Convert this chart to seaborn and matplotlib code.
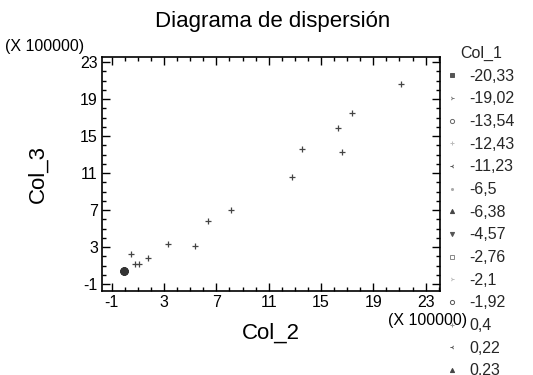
import matplotlib
matplotlib.use("Agg")
import matplotlib.pyplot as plt
from matplotlib.lines import Line2D
from matplotlib.ticker import MultipleLocator, FixedLocator
import seaborn as sns
import pandas as pd
import numpy as np

# ---- data (values in units of 100000) ----
col2 = [21.15, 17.38, 16.31, 16.62, 13.54, 12.77, 8.08, 6.38, 5.38, 3.31, 1.77, 1.08, 0.77, 0.46]
col3 = [20.62, 17.49, 15.86, 13.27, 13.59, 10.57, 7.00, 5.81, 3.11, 3.32, 1.81, 1.16, 1.16, 2.24]
cluster_x = [-0.08, -0.05, -0.10, -0.07]
cluster_y = [0.41, 0.45, 0.38, 0.43]
legend_labels = ["-20,33", "-19,02", "-13,54", "-12,43", "-11,23", "-6,5", "-6,38",
                 "-4,57", "-2,76", "-2,1", "-1,92", "0,4", "0,22", "0,23"]
ticks = [-1, 3, 7, 11, 15, 19, 23]

sns.set_theme(style="white")
plt.rcParams["font.family"] = ["Liberation Sans", "DejaVu Sans"]
plt.rcParams["axes.unicode_minus"] = False

W, H = 533, 375
fig = plt.figure(figsize=(W / 100, H / 100), dpi=100)
L, T, R, B = 102, 57, 440, 291
ax = fig.add_axes([L / W, 1 - B / H, (R - L) / W, (B - T) / H])

df = pd.DataFrame({"Col_2": col2, "Col_3": col3})
dfc = pd.DataFrame({"Col_2": cluster_x, "Col_3": cluster_y})
sns.scatterplot(data=df, x="Col_2", y="Col_3", marker="+", s=22, color="#444444",
                linewidth=0.9, ax=ax, legend=False)
sns.scatterplot(data=dfc, x="Col_2", y="Col_3", marker="o", s=30, color="#333333",
                edgecolor="#333333", linewidth=0.5, ax=ax, legend=False)

ax.set_xlim(-1.75, 24.1)
ax.set_ylim(-1.75, 23.55)
ax.xaxis.set_major_locator(FixedLocator(ticks))
ax.yaxis.set_major_locator(FixedLocator(ticks))
ax.xaxis.set_minor_locator(MultipleLocator(1))
ax.yaxis.set_minor_locator(MultipleLocator(1))
ax.tick_params(which="both", direction="in", top=True, right=True, bottom=True, left=True,
               color="black", width=1.0, labelsize=11.5, labelcolor="black", pad=3)
ax.tick_params(which="major", length=6)
ax.tick_params(which="minor", length=3)
for s in ax.spines.values():
    s.set_color("black")
    s.set_linewidth(1.2)
ax.set_xlabel("Col_2", fontsize=16, color="black", labelpad=9)
ax.set_ylabel("Col_3", fontsize=16, color="black", labelpad=23)

fig.text(273 / W, 1 - 21 / H, "Diagrama de dispersión", ha="center", va="center",
         fontsize=16, color="black")
fig.text(5 / W, 1 - 46 / H, "(X 100000)", ha="left", va="center", fontsize=11.5, color="black")
fig.text(388 / W, 1 - 321 / H, "(X 100000)", ha="left", va="center", fontsize=11.5, color="black")

# legend
mk = ["s", "4", "o", "+", "3", ".", "^", "v", "s", "4", "o", "+", "3", "^"]
cols = ["#555555", "#777777", "#666666", "#bbbbbb", "#555555", "#aaaaaa", "#444444",
        "#555555", "#888888", "#bbbbbb", "#555555", "#999999", "#555555", "#444444"]
fill = ["full", "full", "none", "full", "full", "full", "full", "full", "none", "full",
        "none", "full", "full", "full"]
handles = [Line2D([], [], linestyle="none", marker=m, markersize=3, color=c,
                  fillstyle=f, markeredgewidth=0.7) for m, c, f in zip(mk, cols, fill)]
leg = fig.legend(handles, legend_labels, title="Col_1", loc="upper left",
                 bbox_to_anchor=(447 / W, 1 - 46 / H), frameon=False, fontsize=11.5,
                 title_fontsize=11.5, handlelength=0.6, handletextpad=0.8,
                 labelspacing=0.48, borderaxespad=0, borderpad=0)

fig.savefig("out.png", dpi=100)
